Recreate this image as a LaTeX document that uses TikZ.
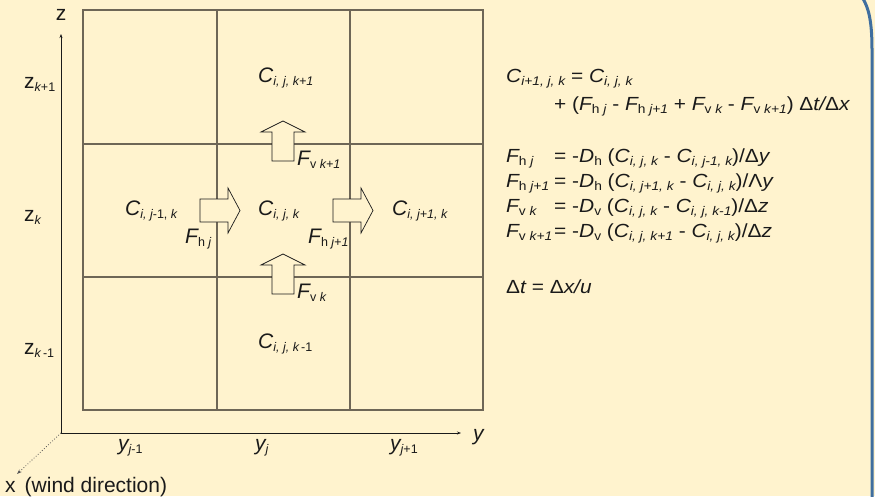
\documentclass[tikz,border=0pt]{standalone}
\usepackage{fontspec}
\setmainfont{Liberation Sans}
\newfontfamily\eqfonte[FakeStretch=1.1]{Liberation Sans}
\usetikzlibrary{arrows.meta}
\definecolor{fundo}{HTML}{FFF3CE}
\definecolor{gradelinha}{HTML}{6E6656}
\definecolor{moldura}{HTML}{3F6E9F}
\definecolor{tinta}{HTML}{1A1A1A}
\newcommand{\ind}[1]{\raisebox{-0.3ex}{\fontsize{12.5}{13}\selectfont #1}}
\tikzset{
  grade/.style={draw=gradelinha,line width=1.1pt},
  eixo/.style={draw=tinta,line width=0.8pt,-{Stealth[length=4pt,width=3pt]}},
  eixox/.style={draw=tinta!75,line width=0.8pt,dotted,-{Stealth[length=5pt,width=3.5pt]}},
  fluxo/.style={draw=tinta,line width=0.7pt,fill=fundo},
  rot/.style={font=\fontsize{21}{23}\selectfont\itshape,text=tinta,inner sep=0pt,anchor=base west},
  eq/.style={font=\eqfonte\fontsize{19}{22}\selectfont\itshape,text=tinta,inner sep=0pt,anchor=base west},
}

\begin{document}
\begin{tikzpicture}[x=1pt,y=-1pt]
  \useasboundingbox (0,0) rectangle (875,496);
  \fill[fundo] (0,0) rectangle (875,496);
  \draw[moldura,line width=3pt] (862,-3) .. controls (869,8) and (872,22) .. (872,50) -- (872,499); % borda
  % grade
  \draw[grade] (83,10) rectangle (483,410);
  \foreach \x in {217,350} \draw[grade] (\x,10) -- (\x,410);
  \foreach \y in {144,277} \draw[grade] (83,\y) -- (483,\y);
  % eixos
  \coordinate (orig) at (61,433);
  \coordinate (zfim) at (61,34);
  \coordinate (yfim) at (461,433);
  \coordinate (xfim) at (17,474);
  \draw[eixo] (orig) -- (zfim);
  \draw[eixo] (orig) -- (yfim);
  \draw[eixox] (orig) -- (xfim);
  \node[rot,font=\fontsize{21}{23}\selectfont,anchor=base] (zlab) at (61,20) {z};
  \node[rot] (ylab) at (473,440) {y};
  \node[rot,font=\fontsize{21}{23}\selectfont] (xlab) at (5,492) {x\hspace{9pt}(wind direction)};
  \node[rot,font=\fontsize{21}{23}\selectfont] (zk1) at (24,88) {z\ind{\itshape k\upshape+1}};
  \node[rot,font=\fontsize{21}{23}\selectfont] (zk) at (24,221) {z\ind{\itshape k}};
  \node[rot,font=\fontsize{21}{23}\selectfont] (zkm) at (24,354) {z\ind{\itshape k\upshape\,-1}};
  \node[rot] (yjm) at (118,450) {y\ind{j\upshape-1}};
  \node[rot] (yj) at (255,450) {y\ind{j}};
  \node[rot] (yjp) at (390,450) {y\ind{j\upshape+1}};
  % fluxos
  \foreach \x in {217,350}
    \draw[fluxo] ({\x-17},199) -- ({\x+11},199) -- ({\x+11},188) -- ({\x+23},210.5) -- ({\x+11},233) -- ({\x+11},222) -- ({\x-17},222) -- cycle;
  \foreach \y in {144,277}
    \draw[fluxo] (272,{\y+17}) -- (272,{\y-12}) -- (261,{\y-12}) -- (283,{\y-23}) -- (305,{\y-12}) -- (294,{\y-12}) -- (294,{\y+17}) -- cycle;
  % celulas
  \node[rot] (cup) at (258,82) {C\ind{i, j, k+1}};
  \node[rot] (cleft) at (125,215) {C\ind{i, j\upshape-1, \itshape k}};
  \node[rot] (cmid) at (258,215) {C\ind{i, j, k}};
  \node[rot] (cright) at (392,215) {C\ind{i, j+1, k}};
  \node[rot] (cdown) at (258,348) {C\ind{i, j, k\upshape\,-1}};
  \node[rot] (fhj) at (185,243) {F\ind{\upshape h \itshape j}};
  \node[rot] (fhj1) at (308,243) {F\ind{\upshape h \itshape j+1}};
  \node[rot] (fvk1) at (297,165) {F\ind{\upshape v \itshape k+1}};
  \node[rot] (fvk) at (297,298) {F\ind{\upshape v \itshape k}};
  % equacoes
  \node[eq] (eq1) at (506,82) {C\ind{i+1, j, k} \upshape= \itshape C\ind{i, j, k}};
  \node[eq] (eq2) at (554,110) {\upshape+ (\itshape F\ind{\upshape h \itshape j}\ \upshape-\ \itshape F\ind{\upshape h \itshape j+1}\ \upshape+\ \itshape F\ind{\upshape v \itshape k}\ \upshape-\ \itshape F\ind{\upshape v \itshape k+1}\upshape)\ Δ\itshape t/\upshape Δ\itshape x};
  \node[eq] (eq3) at (506,162) {\makebox[48pt][l]{F\ind{\upshape h \itshape j}}\upshape= -\itshape D\ind{\upshape h} \upshape(\itshape C\ind{i, j, k} \upshape- \itshape C\ind{i, j-1, k}\upshape)/Δ\itshape y};
  \node[eq] (eq4) at (506,187) {\makebox[48pt][l]{F\ind{\upshape h \itshape j+1}}\upshape= -\itshape D\ind{\upshape h} \upshape(\itshape C\ind{i, j+1, k} \upshape- \itshape C\ind{i, j, k}\upshape)/Λ\itshape y};
  \node[eq] (eq5) at (506,212) {\makebox[48pt][l]{F\ind{\upshape v \itshape k}}\upshape= -\itshape D\ind{\upshape v} \upshape(\itshape C\ind{i, j, k} \upshape- \itshape C\ind{i, j, k-1}\upshape)/Δ\itshape z};
  \node[eq] (eq6) at (506,237) {\makebox[48pt][l]{F\ind{\upshape v \itshape k+1}}\upshape= -\itshape D\ind{\upshape v} \upshape(\itshape C\ind{i, j, k+1} \upshape- \itshape C\ind{i, j, k}\upshape)/Δ\itshape z};
  \node[eq] (eq7) at (506,293) {\upshape Δ\itshape t \upshape= Δ\itshape x/u};
\end{tikzpicture}
\end{document}
